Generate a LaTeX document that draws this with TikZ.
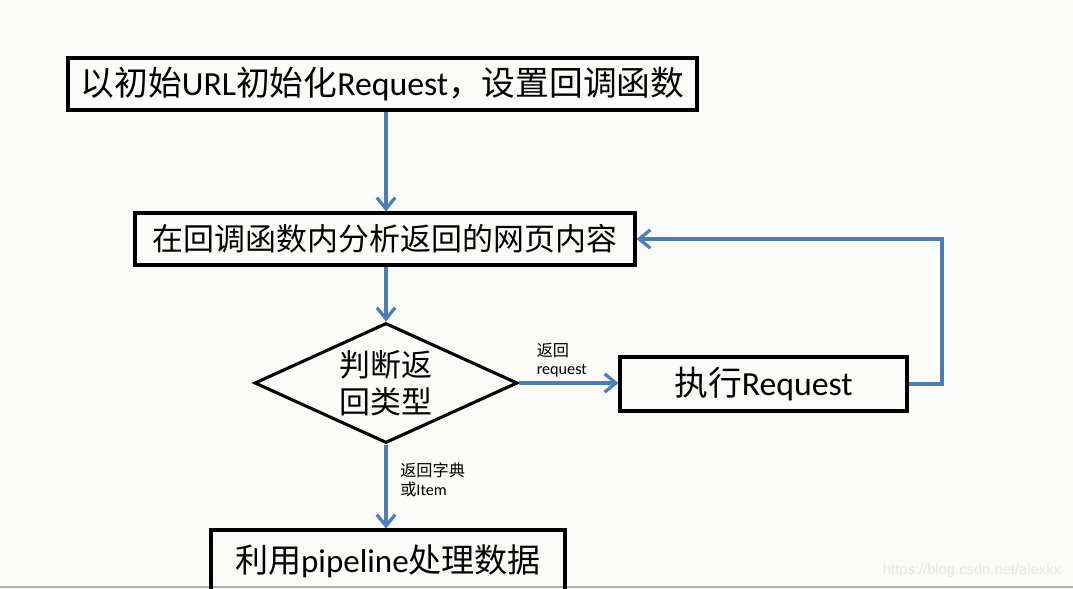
\documentclass[tikz,border=0pt]{standalone}
\usepackage{fontspec}
\setmainfont{Carlito}
\newfontfamily\cjk{Noto Sans CJK SC}
\newfontfamily\wmfont{Liberation Sans}
\newcommand\zhs[1]{{\cjk #1}}
\usetikzlibrary{shapes.geometric,arrows.meta}
\definecolor{flowblue}{RGB}{74,126,187}
\definecolor{pagebg}{RGB}{251,251,250}

\begin{document}
\begin{tikzpicture}[x=0.025cm,y=-0.025cm,
    box/.style={draw, line width=2.2pt, inner sep=0pt, font=\fontsize{22}{26}\selectfont},
    flow/.style={draw=flowblue, line width=2.3pt, -{Straight Barb[length=8pt,width=13pt,line width=2.3pt]}},
    note/.style={font=\fontsize{11.5}{13}\selectfont, align=left, inner sep=1pt}]
	\clip (0,0) rectangle (1073,589);
	\fill[pagebg] (0,0) rectangle (1073,589);
	\draw[gray!60, line width=1pt] (0,587) -- (1073,587);

	\node[box, minimum width=629*0.025cm, minimum height=52*0.025cm, font=\fontsize{24}{28}\selectfont] (init) at (382.5,84)
		{\zhs{以初始}URL\zhs{初始化}Request\zhs{，设置回调函数}};
	\node[box, minimum width=500*0.025cm, minimum height=52*0.025cm] (parse) at (385,239)
		{\zhs{在回调函数内分析返回的网页内容}};
	\node[box, diamond, aspect=2.19, align=center, minimum width=263*0.025cm, minimum height=120*0.025cm] (judge) at (386,383)
		{\zhs{判断返}\\\zhs{回类型}};
	\node[box, minimum width=287*0.025cm, minimum height=54*0.025cm, font=\fontsize{24}{28}\selectfont] (exec) at (763.5,384)
		{\zhs{执行}Request};
	\node[box, minimum width=354*0.025cm, minimum height=62*0.025cm, font=\fontsize{23.5}{28}\selectfont] (pipe) at (388,561)
		{\zhs{利用}pipeline\zhs{处理数据}};
	\coordinate (loop) at (942,239);

	% arrows
	\draw[flow] (init.south -| judge.north) -- (parse.north -| judge.north);
	\draw[flow] (parse.south -| judge.north) -- (judge.north);
	\draw[flow] (judge.east) -- node[note, above=2pt, pos=0.43] {\zhs{返回}\\request} (exec.west |- judge.east);
	\draw[flow] (exec.east) -| (loop) -- (parse.east);
	\draw[flow] (judge.south) -- node[note, right=8pt, pos=0.42] {\zhs{返回字典}\\\zhs{或}Item} (judge.south |- pipe.north);

	\node[font=\wmfont\fontsize{10.5}{12}\selectfont, text=gray!20, anchor=east] (mark) at (1066,571) {https://blog.csdn.net/alexkx};
\end{tikzpicture}
\end{document}
